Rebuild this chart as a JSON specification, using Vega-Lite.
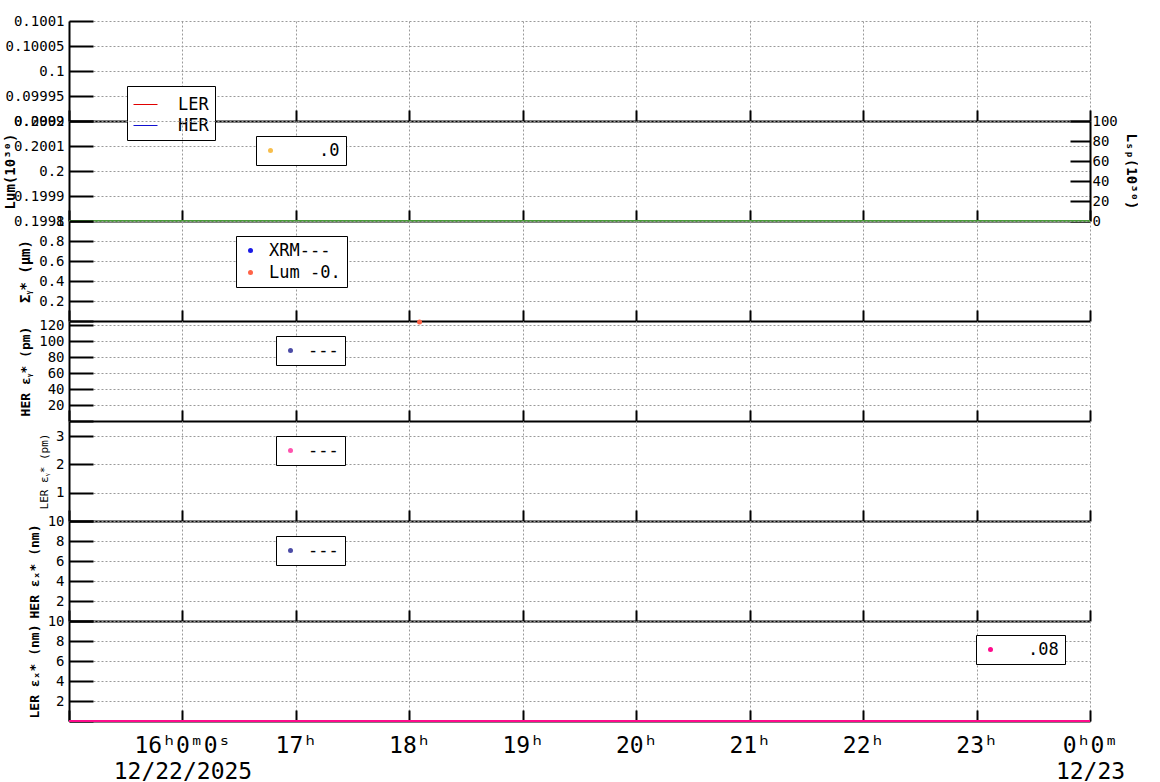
{
  "$schema": "https://vega.github.io/schema/vega-lite/v6.json",
  "padding": {"left": 3, "top": 14, "right": 0, "bottom": 0},
  "background": "white",
  "spacing": 0,
  "bounds": "flush",
  "vconcat": [
    {
      "width": 1021, "height": 100,
      "data": {"values": [{"h": 18, "v": 0.0998, "s": "LER"}, {"h": 18, "v": 0.0998, "s": "HER"}]},
      "mark": {"type": "line", "strokeWidth": 1, "clip": true},
      "encoding": {
        "x": {"field": "h", "type": "quantitative", "scale": {"domain": [15, 24], "nice": false, "zero": false},
          "axis": {"title": null, "labels": false, "values": [15, 16, 17, 18, 19, 20, 21, 22, 23, 24], "grid": true, "tickSize": -11}},
        "y": {"field": "v", "type": "quantitative", "scale": {"domain": [0.0999, 0.1001], "nice": false, "zero": false},
          "axis": {"title": null, "tickCount": 4, "format": "~r", "grid": true, "tickSize": -24, "labelPadding": 29}},
        "color": {"field": "s", "type": "nominal", "scale": {"domain": ["LER", "HER"], "range": ["#e00000", "#1010d0"]},
          "legend": {"title": null, "orient": "none", "legendX": 58, "legendY": 65, "direction": "vertical", "symbolType": "stroke", "symbolSize": 576, "symbolStrokeWidth": 1, "labelOffset": 20, "rowPadding": 0}}
      }
    },
    {
      "width": 1021, "height": 100,
      "layer": [
        {
          "data": {"values": [{"h": 18, "v": 0.1997, "s": ".0"}]},
          "mark": {"type": "circle", "size": 25, "clip": true},
          "encoding": {
            "x": {"field": "h", "type": "quantitative", "scale": {"domain": [15, 24], "nice": false, "zero": false},
              "axis": {"title": null, "labels": false, "values": [15, 16, 17, 18, 19, 20, 21, 22, 23, 24], "grid": true, "tickSize": -11}},
            "y": {"field": "v", "type": "quantitative", "scale": {"domain": [0.1998, 0.2002], "nice": false, "zero": false},
              "axis": {"title": "Lum(10³⁰)", "titleFontSize": 14, "titleX": -52, "titleY": 50, "tickCount": 4, "format": "~r", "grid": true, "tickSize": -24, "labelPadding": 29}},
            "color": {"field": "s", "type": "nominal", "scale": {"domain": [".0"], "range": ["#f4a300"]},
              "legend": {"title": null, "orient": "none", "legendX": 187, "legendY": 15, "direction": "vertical", "symbolType": "circle", "symbolSize": 25, "symbolStrokeWidth": 0, "labelOffset": 40}}
          }
        },
        {
          "data": {"values": [
            {"h": 15, "w": 0}, {"h": 16, "w": 0}, {"h": 17, "w": 0}, {"h": 18, "w": 0}, {"h": 19, "w": 0},
            {"h": 20, "w": 0}, {"h": 21, "w": 0}, {"h": 22, "w": 0}, {"h": 23, "w": 0}, {"h": 24, "w": 0}
          ]},
          "mark": {"type": "line", "color": "#4a9a3a", "strokeWidth": 2},
          "encoding": {
            "x": {"field": "h", "type": "quantitative", "scale": {"domain": [15, 24], "nice": false, "zero": false},
              "axis": {"title": null, "labels": false, "values": [15, 16, 17, 18, 19, 20, 21, 22, 23, 24], "grid": true, "tickSize": -11}},
            "y": {"field": "w", "type": "quantitative", "scale": {"domain": [0, 100], "nice": false},
              "axis": {"orient": "right", "title": "Lₛₚ(10³⁰)", "titleFontSize": 14, "tickCount": 5, "grid": false, "tickSize": -20, "labelPadding": 22}}
          }
        }
      ],
      "resolve": {"scale": {"y": "independent"}, "axis": {"y": "independent"}}
    },
    {
      "width": 1021, "height": 100,
      "data": {"values": [{"h": 18.09, "v": -0.01, "s": "Lum -0."}]},
      "mark": {"type": "circle", "size": 25, "opacity": 1},
      "encoding": {
        "x": {"field": "h", "type": "quantitative", "scale": {"domain": [15, 24], "nice": false, "zero": false},
          "axis": {"title": null, "labels": false, "values": [15, 16, 17, 18, 19, 20, 21, 22, 23, 24], "grid": true, "tickSize": -11}},
        "y": {"field": "v", "type": "quantitative", "scale": {"domain": [0, 1], "nice": false},
          "axis": {"title": "Σᵧ* (µm)", "titleFontSize": 14, "tickCount": 5, "format": "~r", "grid": true, "tickSize": -24, "labelPadding": 29, "labelExpr": "datum.value == 0 ? '' : datum.label"}},
        "color": {"field": "s", "type": "nominal", "scale": {"domain": ["XRM---", "Lum -0."], "range": ["#1a1ae6", "#ff6347"]},
          "legend": {"title": null, "orient": "none", "legendX": 167, "legendY": 15, "direction": "vertical", "symbolType": "circle", "symbolSize": 25, "symbolStrokeWidth": 0, "labelOffset": 10}}
      }
    },
    {
      "width": 1021, "height": 100,
      "data": {"values": [{"h": 18, "v": -50, "s": "---"}]},
      "mark": {"type": "circle", "size": 25, "clip": true},
      "encoding": {
        "x": {"field": "h", "type": "quantitative", "scale": {"domain": [15, 24], "nice": false, "zero": false},
          "axis": {"title": null, "labels": false, "values": [15, 16, 17, 18, 19, 20, 21, 22, 23, 24], "grid": true, "tickSize": -11}},
        "y": {"field": "v", "type": "quantitative", "scale": {"domain": [0, 125], "nice": false},
          "axis": {"title": "HER εᵧ* (pm)", "tickCount": 6, "format": "~r", "grid": true, "tickSize": -24, "labelPadding": 29, "labelExpr": "datum.value == 0 ? '' : datum.label"}},
        "color": {"field": "s", "type": "nominal", "scale": {"domain": ["---"], "range": ["#000080"]},
          "legend": {"title": null, "orient": "none", "legendX": 207, "legendY": 15, "direction": "vertical", "symbolType": "circle", "symbolSize": 25, "symbolStrokeWidth": 0, "labelOffset": 9}}
      }
    },
    {
      "width": 1021, "height": 100,
      "data": {"values": [{"h": 18, "v": -2, "s": "---"}]},
      "mark": {"type": "circle", "size": 25, "clip": true},
      "encoding": {
        "x": {"field": "h", "type": "quantitative", "scale": {"domain": [15, 24], "nice": false, "zero": false},
          "axis": {"title": null, "labels": false, "values": [15, 16, 17, 18, 19, 20, 21, 22, 23, 24], "grid": true, "tickSize": -11}},
        "y": {"field": "v", "type": "quantitative", "scale": {"domain": [0, 3.53], "nice": false},
          "axis": {"title": "LER εᵧ* (pm)", "titleFontSize": 11, "titleFontWeight": "normal", "tickCount": 3, "format": "~r", "grid": true, "tickSize": -24, "labelPadding": 29, "labelExpr": "datum.value == 0 ? '' : datum.label"}},
        "color": {"field": "s", "type": "nominal", "scale": {"domain": ["---"], "range": ["#ff0a8c"]},
          "legend": {"title": null, "orient": "none", "legendX": 207, "legendY": 15, "direction": "vertical", "symbolType": "circle", "symbolSize": 25, "symbolStrokeWidth": 0, "labelOffset": 9}}
      }
    },
    {
      "width": 1021, "height": 100,
      "data": {"values": [{"h": 18, "v": -5, "s": "---"}]},
      "mark": {"type": "circle", "size": 25, "clip": true},
      "encoding": {
        "x": {"field": "h", "type": "quantitative", "scale": {"domain": [15, 24], "nice": false, "zero": false},
          "axis": {"title": null, "labels": false, "values": [15, 16, 17, 18, 19, 20, 21, 22, 23, 24], "grid": true, "tickSize": -11}},
        "y": {"field": "v", "type": "quantitative", "scale": {"domain": [0, 10], "nice": false},
          "axis": {"title": "HER εₓ* (nm)", "tickCount": 5, "format": "~r", "grid": true, "tickSize": -24, "labelPadding": 29, "labelExpr": "datum.value == 0 ? '' : datum.label"}},
        "color": {"field": "s", "type": "nominal", "scale": {"domain": ["---"], "range": ["#000080"]},
          "legend": {"title": null, "orient": "none", "legendX": 207, "legendY": 15, "direction": "vertical", "symbolType": "circle", "symbolSize": 25, "symbolStrokeWidth": 0, "labelOffset": 9}}
      }
    },
    {
      "width": 1021, "height": 100,
      "data": {"values": [
        {"h": 15, "v": 0, "s": ".08"}, {"h": 16, "v": 0, "s": ".08"}, {"h": 17, "v": 0, "s": ".08"}, {"h": 18, "v": 0, "s": ".08"}, {"h": 19, "v": 0, "s": ".08"},
        {"h": 20, "v": 0, "s": ".08"}, {"h": 21, "v": 0, "s": ".08"}, {"h": 22, "v": 0, "s": ".08"}, {"h": 23, "v": 0, "s": ".08"}, {"h": 24, "v": 0, "s": ".08"}
      ]},
      "layer": [
        {
          "mark": {"type": "line", "strokeWidth": 2},
          "encoding": {
            "x": {"field": "h", "type": "quantitative", "scale": {"domain": [15, 24], "nice": false, "zero": false},
              "axis": {"orient": "bottom", "title": null, "labels": true, "values": [15, 16, 17, 18, 19, 20, 21, 22, 23, 24], "grid": true, "tickSize": -11,
                "labelFontSize": 23, "labelPadding": 24, "labelAlign": "center", "labelBaseline": "top",
                "labelExpr": "datum.value == 15 ? '' : datum.value == 16 ? '16ʰ0ᵐ0ˢ' : datum.value == 24 ? '0ʰ0ᵐ' : datum.value + 'ʰ'"}},
            "y": {"field": "v", "type": "quantitative", "scale": {"domain": [0, 10], "nice": false},
              "axis": {"title": "LER εₓ* (nm)", "tickCount": 5, "format": "~r", "grid": true, "tickSize": -24, "labelPadding": 29, "labelExpr": "datum.value == 0 ? '' : datum.label"}},
            "color": {"field": "s", "type": "nominal", "scale": {"domain": [".08"], "range": ["#ff0a8c"]},
              "legend": {"title": null, "orient": "none", "legendX": 907, "legendY": 14, "direction": "vertical", "symbolType": "circle", "symbolSize": 25, "symbolFillColor": "#ff0a8c", "symbolStrokeWidth": 0, "labelOffset": 29}}
          }
        },
        {
          "mark": {"type": "line", "strokeWidth": 2, "color": "#ff0a8c"},
          "encoding": {
            "x": {"field": "h", "type": "quantitative", "scale": {"domain": [15, 24], "nice": false, "zero": false},
              "axis": {"orient": "bottom", "title": null, "labels": true, "values": [16, 24], "grid": false, "ticks": false, "domain": false,
                "labelFontSize": 23, "labelPadding": 39, "labelAlign": "center", "labelBaseline": "top",
                "labelExpr": "datum.value == 16 ? '12/22/2025' : datum.value == 24 ? '12/23' : ''"}},
            "y": {"field": "v", "type": "quantitative", "scale": {"domain": [0, 10], "nice": false},
              "axis": {"title": "LER εₓ* (nm)", "tickCount": 5, "format": "~r", "grid": true, "tickSize": -24, "labelPadding": 29, "labelExpr": "datum.value == 0 ? '' : datum.label"}}
          }
        }
      ],
      "resolve": {"axis": {"x": "independent"}}
    }
  ],
  "resolve": {
    "scale": {"color": "independent"},
    "legend": {"color": "independent"}
  },
  "config": {
    "font": "DejaVu Sans Mono",
    "view": {"stroke": null},
    "axis": {
      "labelFont": "DejaVu Sans Mono", "labelFontSize": 14, "labelColor": "black",
      "titleFont": "DejaVu Sans Mono", "titleFontSize": 13, "titleFontWeight": "bold", "titleColor": "black", "titlePadding": 6,
      "domainColor": "black", "domainWidth": 2, "tickColor": "black", "tickWidth": 2,
      "gridColor": "#9a9a9a", "gridDash": [2, 2], "gridWidth": 1,
      "labelOverlap": false, "labelFlush": false
    },
    "legend": {
      "fillColor": "white", "strokeColor": "black", "padding": 6,
      "labelFont": "DejaVu Sans Mono", "labelFontSize": 17, "labelColor": "black", "rowPadding": 4
    }
  }
}
